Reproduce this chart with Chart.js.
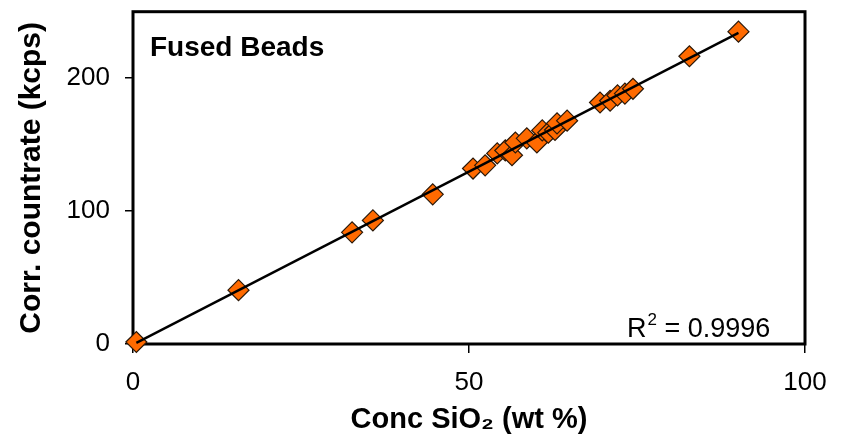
<!DOCTYPE html>
<html>
<head>
<meta charset="utf-8">
<script src="https://cdn.jsdelivr.net/npm/chart.js@4.4.1/dist/chart.umd.min.js"></script>
<style>
  html, body { margin: 0; padding: 0; background: #fff; }
  #wrap { width: 844px; height: 442px; }
</style>
</head>
<body>
<div id="wrap"><canvas id="myChart"></canvas></div>
<script>
// SiO2 concentration (wt %) of the fused bead standards
var concSiO2 = [0.5, 15.7, 32.6, 35.7, 44.6, 50.6, 52.4, 54.2, 55.4, 56.4, 56.9, 58.6, 60.1, 60.9, 61.8, 62.8, 63.1, 64.6, 69.5, 71.0, 72.1, 73.2, 74.4, 82.8, 90.1];
// corrected countrate (kcps)
var countrate = [1.5, 40.5, 84, 93, 112.6, 132, 134.4, 143.4, 145.6, 142, 151.6, 154.7, 151.6, 160.7, 159, 161, 166, 168, 181.7, 183, 187, 188.4, 192, 216.5, 235];

var xTicks = [0, 50, 100];
var yTicks = [0, 100, 200];
var chartTitle = 'Fused Beads';
var rSquared = '0.9996';

var fontFamily = "'Liberation Sans', Arial, sans-serif";

// least squares trendline through the standards
function fitLine(xs, ys) {
    var n = xs.length, sx = 0, sy = 0, sxx = 0, sxy = 0;
    for (var i = 0; i < n; i++) {
        sx += xs[i]; sy += ys[i];
        sxx += xs[i] * xs[i]; sxy += xs[i] * ys[i];
    }
    var slope = (n * sxy - sx * sy) / (n * sxx - sx * sx);
    return { slope: slope, icpt: (sy - slope * sx) / n };
}
var fit = fitLine(concSiO2, countrate);
var xMin = Math.min.apply(null, concSiO2), xMax = Math.max.apply(null, concSiO2);
var trend = [xMin, xMax].map(x => ({ x: x, y: fit.slope * x + fit.icpt }));

var points = concSiO2.map((x, i) => ({ x: x, y: countrate[i] }));

const framePlugin = {
    id: 'frame',
    beforeDatasetsDraw(chart) {
        const a = chart.chartArea, ctx = chart.ctx;
        ctx.save();
        ctx.strokeStyle = '#000';
        ctx.lineWidth = 3;
        ctx.strokeRect(a.left, a.top, a.right - a.left, a.bottom - a.top);
        ctx.restore();
    },
    afterDraw(chart) {
        const a = chart.chartArea, ctx = chart.ctx;
        ctx.save();
        ctx.fillStyle = '#000';
        ctx.textBaseline = 'alphabetic';
        ctx.font = 'bold 28px ' + fontFamily;
        ctx.fillText(chartTitle, a.left + 17, a.top + 44);

        // R^2 label, bottom right
        ctx.font = '27px ' + fontFamily;
        var x = 627, y = 337;
        ctx.fillText('R', x, y);
        x += ctx.measureText('R').width;
        ctx.font = '17px ' + fontFamily;
        ctx.fillText('2', x + 1, y - 12);
        x += ctx.measureText('2').width + 1;
        ctx.font = '27px ' + fontFamily;
        ctx.fillText(' = ' + rSquared, x, y);
        ctx.restore();
    }
};

new Chart(document.getElementById('myChart'), {
    type: 'scatter',
    data: {
        datasets: [{
            type: 'line',
            label: 'trend',
            data: trend,
            borderColor: '#000',
            borderWidth: 2.4,
            pointRadius: 0,
            fill: false,
            order: 0,
            clip: false
        }, {
            label: 'standards',
            data: points,
            pointStyle: 'rectRot',
            pointRadius: 10.5,
            pointHoverRadius: 10.5,
            backgroundColor: '#ff6a00',
            borderColor: '#2a1808',
            borderWidth: 1.2,
            order: 1,
            clip: false
        }]
    },
    options: {
        responsive: true,
        maintainAspectRatio: false,
        animation: false,
        layout: { padding: { left: 0, right: 39, top: 11, bottom: 0 } },
        plugins: {
            legend: { display: false },
            tooltip: { enabled: false }
        },
        scales: {
            x: {
                type: 'linear',
                min: 0,
                max: 100,
                afterBuildTicks: s => { s.ticks = xTicks.map(v => ({ value: v })); },
                afterFit: s => { s.height = 98; s.paddingLeft = 0; s.paddingRight = 0; },
                border: { display: false },
                grid: { drawOnChartArea: false, drawTicks: true, tickLength: 9, color: '#000', lineWidth: 1.5 },
                ticks: { color: '#000', padding: 14, maxRotation: 0, font: { family: fontFamily, size: 26 } },
                title: {
                    display: true,
                    text: 'Conc SiO\u2082 (wt %)',
                    color: '#000',
                    padding: { top: 0, bottom: 5 },
                    font: { family: fontFamily, size: 29, weight: 'bold' }
                }
            },
            y: {
                type: 'linear',
                min: 0,
                max: 250,
                afterBuildTicks: s => { s.ticks = yTicks.map(v => ({ value: v })); },
                afterFit: s => { s.width = 133; s.paddingTop = 0; s.paddingBottom = 0; },
                border: { display: false },
                grid: { drawOnChartArea: false, drawTicks: true, tickLength: 8, color: '#000', lineWidth: 1.5 },
                ticks: { color: '#000', padding: 15, font: { family: fontFamily, size: 26 } },
                title: {
                    display: true,
                    text: 'Corr. countrate (kcps)',
                    color: '#000',
                    padding: { top: 14, bottom: 0 },
                    font: { family: fontFamily, size: 30, weight: 'bold' }
                }
            }
        }
    },
    plugins: [framePlugin]
});
</script>
</body>
</html>
